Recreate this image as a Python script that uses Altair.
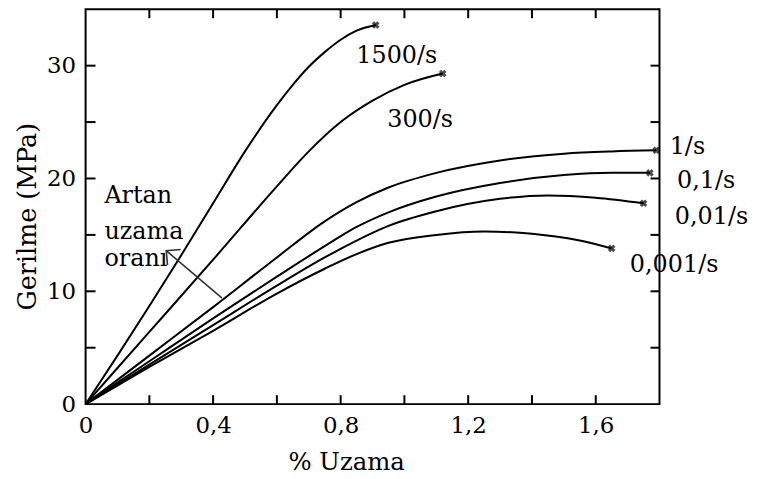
import altair as alt
import pandas as pd

# ---- data ----
series_names = ["1500/s", "300/s", "1/s", "0,1/s", "0,01/s", "0,001/s"]

strain_1500 = [0.0, 0.1, 0.2, 0.3, 0.4, 0.5, 0.6, 0.65, 0.7, 0.75, 0.8, 0.85, 0.91]
stress_1500 = [0.0, 4.3, 8.7, 13.2, 17.8, 22.4, 26.5, 28.3, 29.9, 31.2, 32.3, 33.1, 33.6]

strain_300 = [0.0, 0.2, 0.4, 0.6, 0.7, 0.8, 0.9, 1.0, 1.12]
stress_300 = [0.0, 6.4, 12.8, 19.3, 22.4, 25.0, 26.9, 28.3, 29.3]

strain_1 = [0.0, 0.2, 0.4, 0.6, 0.75, 0.85, 0.95, 1.1, 1.3, 1.5, 1.65, 1.79]
stress_1 = [0.0, 4.3, 8.6, 13.0, 16.2, 17.9, 19.2, 20.5, 21.6, 22.2, 22.4, 22.5]

strain_01 = [0.0, 0.2, 0.4, 0.6, 0.75, 0.85, 0.95, 1.1, 1.3, 1.5, 1.65, 1.77]
stress_01 = [0.0, 3.8, 7.6, 11.3, 14.0, 15.7, 17.0, 18.4, 19.6, 20.3, 20.5, 20.5]

strain_001 = [0.0, 0.2, 0.4, 0.6, 0.75, 0.85, 0.95, 1.1, 1.3, 1.45, 1.6, 1.75]
stress_001 = [0.0, 3.5, 7.0, 10.5, 13.0, 14.5, 15.8, 17.1, 18.2, 18.5, 18.3, 17.8]

strain_0001 = [0.0, 0.2, 0.4, 0.6, 0.75, 0.85, 0.95, 1.1, 1.25, 1.4, 1.55, 1.65]
stress_0001 = [0.0, 3.3, 6.5, 9.8, 12.0, 13.3, 14.3, 15.0, 15.3, 15.1, 14.5, 13.8]

label_texts = ["1500/s", "300/s", "1/s", "0,1/s", "0,01/s", "0,001/s", "Artan", "uzama", "oranı"]
label_x = [0.849, 0.946, 1.832, 1.855, 1.848, 1.707, 0.059, 0.059, 0.059]
label_y = [30.2, 24.6, 22.2, 19.2, 16.0, 11.7, 17.8, 14.6, 12.2]

arrow_x = [0.428, 0.253]
arrow_y = [9.4, 13.6]

x_label_values = [0, 0.4, 0.8, 1.2, 1.6]
y_label_values = [0, 10, 20, 30]
x_tick_values = [0.2, 0.4, 0.6, 0.8, 1.0, 1.2, 1.4, 1.6]
y_tick_values = [5, 10, 15, 20, 25, 30]

# ---- tables ----
all_x = [strain_1500, strain_300, strain_1, strain_01, strain_001, strain_0001]
all_y = [stress_1500, stress_300, stress_1, stress_01, stress_001, stress_0001]
rows = []
for name, xs_, ys_ in zip(series_names, all_x, all_y):
    for i, (a, b) in enumerate(zip(xs_, ys_)):
        rows.append({"series": name, "x": a, "y": b, "i": i})
curves = pd.DataFrame(rows)
ends = pd.DataFrame([{"series": n, "x": a[-1], "y": b[-1]} for n, a, b in zip(series_names, all_x, all_y)])
labels = pd.DataFrame({"text": label_texts, "x": label_x, "y": label_y})
arrow = pd.DataFrame({"x": arrow_x, "y": arrow_y, "i": [0, 1]})
arrow_tip = pd.DataFrame({"x": [arrow_x[-1]], "y": [arrow_y[-1]]})
xt = pd.DataFrame({"x": x_tick_values})
yt = pd.DataFrame({"y": y_tick_values})

W, H = 577, 397
FONT = "DejaVu Serif"
xs = alt.Scale(domain=[0, 1.8], nice=False, zero=False)
ys = alt.Scale(domain=[0, 35], nice=False, zero=False)

x_axis = alt.Axis(
    values=x_label_values, ticks=False, domain=False, grid=False,
    labelExpr="replace(format(datum.value, '.1~f'), '.', ',')", labelFlush=False,
    labelFont=FONT, labelFontSize=23, labelColor="black", labelPadding=11,
    title="% Uzama", titleFont=FONT, titleFontSize=24.5, titleFontWeight="normal",
    titleColor="black", titleX=262, titleY=66, titleAlign="center", titleBaseline="alphabetic")
y_axis = alt.Axis(
    values=y_label_values, ticks=False, domain=False, grid=False,
    labelFont=FONT, labelFontSize=23, labelColor="black", labelPadding=10,
    title="Gerilme (MPa)", titleFont=FONT, titleFontSize=25.5, titleFontWeight="normal",
    titleColor="black", titleX=-50, titleY=208, titleAngle=270, titleAlign="center",
    titleBaseline="alphabetic")


def X():
    return alt.X("x:Q", scale=xs, axis=x_axis, title="% Uzama")


def Y():
    return alt.Y("y:Q", scale=ys, axis=y_axis, title="Gerilme (MPa)")


lines = alt.Chart(curves).mark_line(color="black", strokeWidth=2, interpolate="monotone").encode(
    x=X(), y=Y(), detail="series:N", order="i:Q")

markers = alt.Chart(ends).mark_point(shape="cross", angle=45, size=60, filled=True, color="black").encode(
    x=X(), y=Y())

texts = alt.Chart(labels).mark_text(font=FONT, fontSize=24, align="left", baseline="alphabetic", color="black").encode(
    x=X(), y=Y(), text="text:N")

arrow_line = alt.Chart(arrow).mark_line(color="#333333", strokeWidth=1.6).encode(
    x=X(), y=Y(), order="i:Q")

arrow_head = alt.Chart(arrow_tip).mark_point(
    shape="M -1 1 L 0 0 L 1 1", angle=310, size=420, filled=False, color="#333333", strokeWidth=1.6, opacity=1
).encode(x=X(), y=Y())

tick_bottom = alt.Chart(xt).mark_rule(color="black", strokeWidth=2).encode(
    x=X(), y=alt.value(H), y2=alt.value(H - 9))
tick_top = alt.Chart(xt).mark_rule(color="black", strokeWidth=2).encode(
    x=X(), y=alt.value(0), y2=alt.value(9))
tick_left = alt.Chart(yt).mark_rule(color="black", strokeWidth=2).encode(
    y=Y(), x=alt.value(0), x2=alt.value(10))
tick_right = alt.Chart(yt).mark_rule(color="black", strokeWidth=2).encode(
    y=Y(), x=alt.value(W), x2=alt.value(W - 9))

chart = alt.layer(
    lines, markers, texts, arrow_line, arrow_head, tick_bottom, tick_top, tick_left, tick_right
).properties(
    width=W, height=H,
    autosize=alt.AutoSizeParams(type="none"),
    padding={"left": 78, "top": 0, "right": 90, "bottom": 70},
).configure(
    background="white"
).configure_view(
    stroke="black", strokeWidth=2
)

chart.save("out.html", embed_options={"renderer": "svg", "actions": False})
